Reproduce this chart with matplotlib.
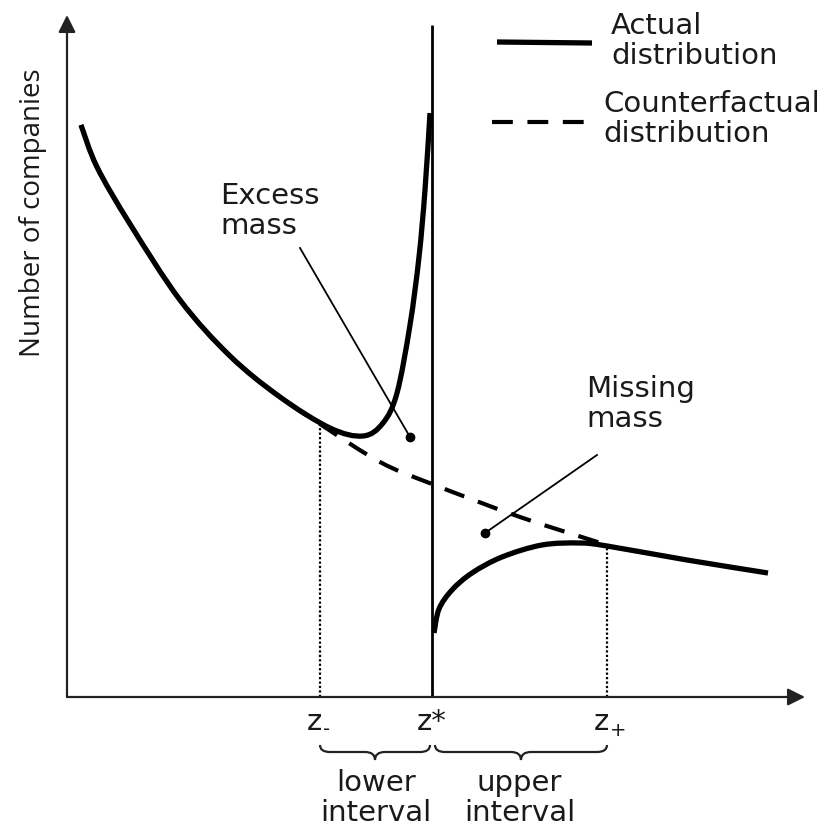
import matplotlib
matplotlib.use("Agg")
import matplotlib.pyplot as plt
from matplotlib.path import Path
from matplotlib.patches import PathPatch

# ---- data (schematic units: x to the right of the origin, y above the x-axis) ----
actual_left_x = [14, 30, 63, 113, 163, 213, 263, 296, 316, 330, 343, 352, 358, 363]
actual_left_y = [572, 530, 473, 397, 341, 300, 269, 261, 274, 304, 372, 440, 507, 584]

actual_right_x = [367, 372, 385, 405, 435, 475, 513, 540, 620, 701]
actual_right_y = [64, 88, 107, 124, 140, 152, 154, 151, 137, 124]

counter_x = [14, 30, 63, 113, 163, 213, 253, 313, 365, 453, 540]
counter_y = [572, 530, 473, 397, 341, 300, 273, 235, 213, 180, 152]

z_star = 365
z_minus = 253
z_plus = 540
z_minus_height = 273
z_plus_height = 151

tick_main = ["z", "z*", "z"]
tick_sub = ["-", "", "+"]
interval_labels = ["lower\ninterval", "upper\ninterval"]
ylabel = "Number of companies"
legend_labels = ["Actual\ndistribution", "Counterfactual\ndistribution"]

# ---- figure ----
W, H = 824, 827
fig = plt.figure(figsize=(W / 100, H / 100), dpi=100)
ax = fig.add_axes([0, 0, 1, 1])
ax.set_xlim(-67, W - 67)
ax.set_ylim(-(H - 697), 697)
ax.axis("off")

FS = 21
ink = "black"
txt = "#1a1a1a"
LS = 1.1


def smooth_path(xs, ys):
    """Smooth Bezier path passing through the given points (Catmull-Rom style)."""
    pts = list(zip(xs, ys))
    n = len(pts)
    verts = [pts[0]]
    codes = [Path.MOVETO]
    for i in range(n - 1):
        p0 = pts[i - 1] if i > 0 else pts[i]
        p1 = pts[i]
        p2 = pts[i + 1]
        p3 = pts[i + 2] if i + 2 < n else pts[i + 1]
        c1 = (p1[0] + (p2[0] - p0[0]) / 6, p1[1] + (p2[1] - p0[1]) / 6)
        c2 = (p2[0] - (p3[0] - p1[0]) / 6, p2[1] - (p3[1] - p1[1]) / 6)
        verts += [c1, c2, p2]
        codes += [Path.CURVE4] * 3
    return Path(verts, codes)


def draw_curve(xs, ys, **kw):
    ax.add_patch(PathPatch(smooth_path(xs, ys), fill=False, edgecolor=ink, **kw))


# axes with arrows
ax.annotate("", xy=(738, 0), xytext=(0, 0),
            arrowprops=dict(arrowstyle="-|>", mutation_scale=26, lw=1.6, color="#222222",
                            shrinkA=0, shrinkB=0))
ax.annotate("", xy=(0, 682), xytext=(0, 0),
            arrowprops=dict(arrowstyle="-|>", mutation_scale=26, lw=1.6, color="#222222",
                            shrinkA=0, shrinkB=0))

# threshold line
ax.plot([z_star, z_star], [0, 672], color=ink, lw=2.0, solid_capstyle="butt")

# dotted guides
ax.plot([z_minus, z_minus], [0, z_minus_height], color=ink, lw=1.6, linestyle=(0, (1, 1)))
ax.plot([z_plus, z_plus], [0, z_plus_height], color=ink, lw=1.6, linestyle=(0, (1, 1)))

# counterfactual (dashed)
draw_curve(counter_x, counter_y, lw=3.0, linestyle=(0, (5, 3.5)), capstyle="butt")

# actual distribution
draw_curve(actual_left_x, actual_left_y, lw=3.8, joinstyle="round", capstyle="butt")
draw_curve(actual_right_x, actual_right_y, lw=3.8, joinstyle="round", capstyle="butt")

# annotations
ax.plot([233, 343], [449, 260], color=ink, lw=1.3)
ax.plot([343], [260], "o", color=ink, ms=6)
ax.text(153, 486, "Excess\nmass", fontsize=FS, ha="left", va="center", color=txt, linespacing=LS)

ax.plot([418, 530], [164, 242], color=ink, lw=1.3)
ax.plot([418], [164], "o", color=ink, ms=6)
ax.text(519, 293, "Missing\nmass", fontsize=FS, ha="left", va="center", color=txt, linespacing=LS)

# legend
ax.plot([430, 525], [655, 654], color=ink, lw=3.8, solid_capstyle="butt")
ax.text(544, 656, legend_labels[0], fontsize=FS, ha="left", va="center", color=txt, linespacing=LS)
ax.plot([425, 520], [575, 575], color=ink, lw=3.0, linestyle=(0, (5, 3.5)))
ax.text(536, 578, legend_labels[1], fontsize=FS, ha="left", va="center", color=txt, linespacing=LS)

# y label
ax.text(-34, 484, ylabel, fontsize=20, rotation=90, ha="center", va="center",
        color=txt, family="Open Sans")

# tick labels
for xpos, main, sub in zip([z_minus, z_star, z_plus], tick_main, tick_sub):
    if sub:
        ax.text(xpos + 2, -25, main, fontsize=FS, ha="right", va="center", color=txt)
        ax.text(xpos + 3, -33, sub, fontsize=14, ha="left", va="center", color=txt)
    else:
        ax.text(xpos, -25, main, fontsize=FS, ha="center", va="center", color=txt)


def brace(x0, x1, yt=-48, ym=-55, yb=-63, q=10):
    xm = (x0 + x1) / 2
    verts = [(x0, yt), (x0, ym), (x0 + q, ym),
             (xm - q, ym), (xm, ym), (xm, yb),
             (xm, ym), (xm + q, ym),
             (x1 - q, ym), (x1, ym), (x1, yt)]
    codes = [Path.MOVETO, Path.CURVE3, Path.CURVE3,
             Path.LINETO, Path.CURVE3, Path.CURVE3,
             Path.CURVE3, Path.CURVE3,
             Path.LINETO, Path.CURVE3, Path.CURVE3]
    ax.add_patch(PathPatch(Path(verts, codes), fill=False, lw=1.6, edgecolor="#222222"))


brace(z_minus, z_star - 2)
brace(z_star + 3, z_plus)

ax.text((z_minus + z_star) / 2, -101, interval_labels[0], fontsize=FS, ha="center", va="center",
        color=txt, linespacing=1.05)
ax.text((z_star + z_plus) / 2, -101, interval_labels[1], fontsize=FS, ha="center", va="center",
        color=txt, linespacing=1.05)

fig.savefig("out.png", dpi=100, facecolor="white")
